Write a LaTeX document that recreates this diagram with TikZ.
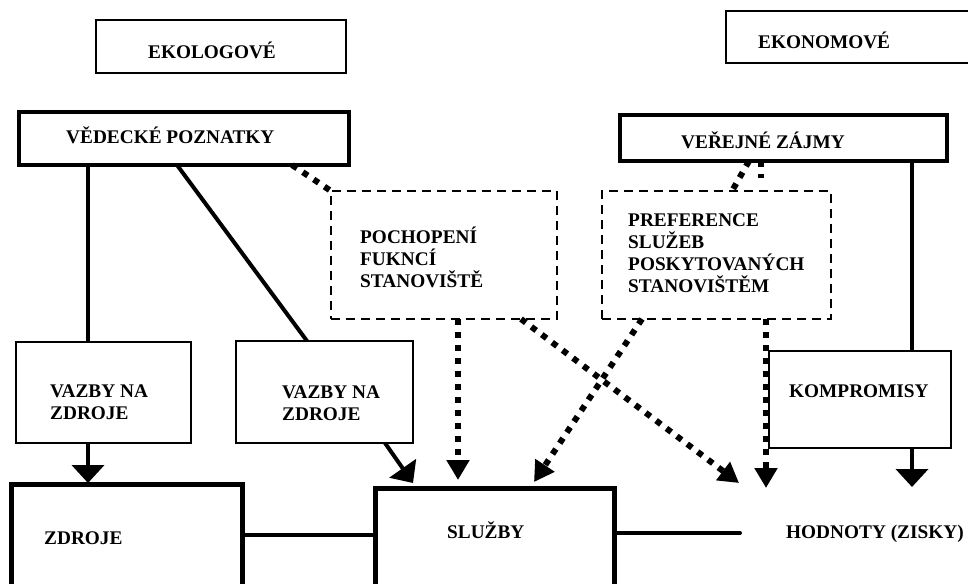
\documentclass[tikz,border=0pt]{standalone}
\usepackage{fontspec}
\setmainfont{Liberation Serif}
\usetikzlibrary{arrows.meta}
\begin{document}
\begin{tikzpicture}[x=1pt,y=-1pt,
  thinbox/.style={draw,line width=1.3pt,inner sep=0pt,outer sep=0pt},
  midbox/.style={draw,line width=3.5pt,inner sep=0pt,outer sep=0pt},
  bigbox/.style={draw,line width=5pt,inner sep=0pt,outer sep=0pt},
  dashbox/.style={draw,line width=2pt,dash pattern=on 9pt off 6pt,inner sep=0pt,outer sep=0pt},
  lbl/.style={anchor=west,inner sep=0pt,align=left,font=\fontsize{19.3}{22}\selectfont\bfseries},
  conn/.style={line width=4pt},
  dots/.style={line width=6pt,dash pattern=on 6pt off 7pt},
  tip/.style={-{Triangle[width=32pt,length=18pt]}},
  dtip/.style={-{Triangle[width=22pt,length=20pt]}}
]
\clip (0,0) rectangle (968,583);
\fill[white] (0,0) rectangle (968,583);

% boxes
\node[thinbox,minimum width=250,minimum height=53] (ekol) at (221,46.5) {};
\node[thinbox,minimum width=264,minimum height=52] (ekon) at (858,37) {};
\node[midbox,minimum width=330,minimum height=53] (vdeck) at (184,138.5) {};
\node[midbox,minimum width=327,minimum height=46] (vzaj) at (783.5,138) {};
\node[dashbox,minimum width=226,minimum height=128] (dash1) at (444,255) {};
\node[dashbox,minimum width=229,minimum height=128] (dash2) at (716.5,255) {};
\node[thinbox,minimum width=175,minimum height=101] (vaz1) at (103.5,392.5) {};
\node[thinbox,minimum width=177,minimum height=102] (vaz2) at (324.5,392) {};
\node[bigbox,minimum width=231,minimum height=126] (zdroje) at (126.5,547) {};
\node[bigbox,minimum width=239,minimum height=122] (sluzby) at (494.5,549) {};
\node[thinbox,minimum width=182,minimum height=97] (kompr) at (860,399.5) {};

% labels
\node[lbl] (tekol) at (148,50) {EKOLOGOVÉ};
\node[lbl] (tekon) at (758,40) {EKONOMOVÉ};
\node[lbl] (tvdeck) at (66,135) {VĚDECKÉ POZNATKY};
\node[lbl] (tvzaj) at (681,140) {VEŘEJNÉ ZÁJMY};
\node[lbl] (tdash1) at (360,257) {POCHOPENÍ\\FUKNCÍ\\STANOVIŠTĚ};
\node[lbl] (tdash2) at (628,253) {PREFERENCE\\SLUŽEB\\POSKYTOVANÝCH\\STANOVIŠTĚM};
\node[lbl] (tvaz1) at (50,402) {VAZBY NA\\ZDROJE};
\node[lbl] (tvaz2) at (282,403) {VAZBY NA\\ZDROJE};
\node[lbl] (tzdroje) at (44,538) {ZDROJE};
\node[lbl] (tsluzby) at (447,530) {SLUŽBY};
\node[lbl] (tkompr) at (789,391) {KOMPROMISY};
\node[lbl] (hod) at (786,534) {HODNOTY (ZISKY)};

% free ends
\coordinate (hl) at (740,533);
\coordinate (t1) at (739,483);
\coordinate (t2) at (766,488);
\coordinate (t3) at (912,487);

% solid connectors
\draw[conn] ([xshift=69pt]vdeck.south west) -- ([xshift=72pt]vaz1.north west);
\draw[conn] ([xshift=158pt]vdeck.south west) -- ([xshift=71pt]vaz2.north west);
\draw[conn,tip] ([xshift=72pt]vaz1.south west) -- ([xshift=77pt,yshift=1pt]zdroje.north west);
\draw[conn,tip] ([xshift=149pt]vaz2.south west) -- ([xshift=38pt,yshift=5pt]sluzby.north west);
\draw[conn] ([yshift=12pt]zdroje.east) -- ([yshift=12pt]zdroje.east -| sluzby.west);
\draw[conn,line cap=round] ([yshift=16pt]sluzby.east) -- (hl);
\draw[conn] ([xshift=292pt]vzaj.south west) -- ([xshift=143pt]kompr.north west);
\draw[conn,tip] ([xshift=143pt]kompr.south west) -- (t3);

% dotted connectors
\draw[dots] ([xshift=273pt]vdeck.south west) -- (dash1.north west);
\draw[dots] ([xshift=129pt]vzaj.south west) -- ([xshift=130pt]dash2.north west);
\draw[dots,shorten >=13pt] ([xshift=141pt]vzaj.south west) -- ([xshift=159pt]dash2.north west);
\draw[dots,dtip] ([xshift=127pt]dash1.south west) -- ([xshift=83pt,yshift=8pt]sluzby.north west);
\draw[dots,dtip] ([xshift=190pt]dash1.south west) -- (t1);
\draw[dots,dtip] ([xshift=40pt]dash2.south west) -- ([xshift=159pt,yshift=6pt]sluzby.north west);
\draw[dots,dtip] ([xshift=164pt]dash2.south west) -- (t2);
\end{tikzpicture}
\end{document}
